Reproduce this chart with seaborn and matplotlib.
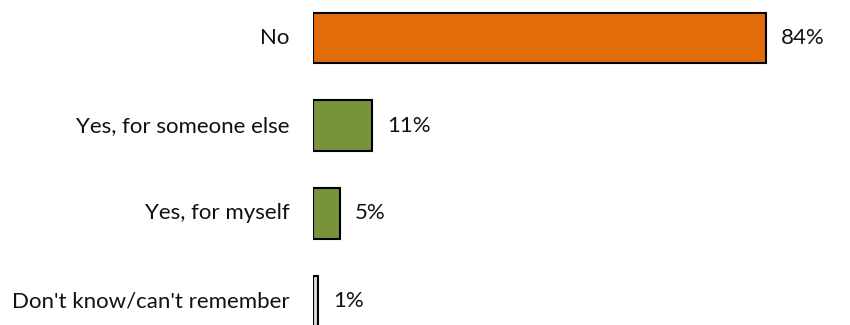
import matplotlib
matplotlib.use('Agg')
import matplotlib.pyplot as plt
import seaborn as sns
import pandas as pd

categories = ['No', 'Yes, for someone else', 'Yes, for myself', "Don't know/can't remember"]
values = [84, 11, 5, 1]
colors = ['#E36C0A', '#77933C', '#77933C', '#D9D9D9']

sns.set_theme(style='white')
plt.rcParams['font.family'] = ['Lato', 'DejaVu Sans']

df = pd.DataFrame({'answer': categories, 'pct': values})

fig = plt.figure(figsize=(8.5, 3.25), dpi=100)
ax = fig.add_axes([313 / 850, 0, 537 / 850, 1])
sns.barplot(data=df, y='answer', x='pct', hue='answer', palette=colors,
            orient='h', width=0.575, edgecolor='black', linewidth=1.5,
            saturation=1, legend=False, ax=ax)

ax.set_xlim(0, 537 / 5.39)
ax.set_ylim(3 + 24 / 87.7, -38 / 87.7)
ax.axis('off')

for i, (cat, v) in enumerate(zip(categories, values)):
    ax.text(-4.3, i, cat, ha='right', va='center', fontsize=16, color='#111111')
    ax.text(v + 2.8, i, f'{v}%', ha='left', va='center', fontsize=16, color='#111111')

fig.savefig('out.png', dpi=100)
